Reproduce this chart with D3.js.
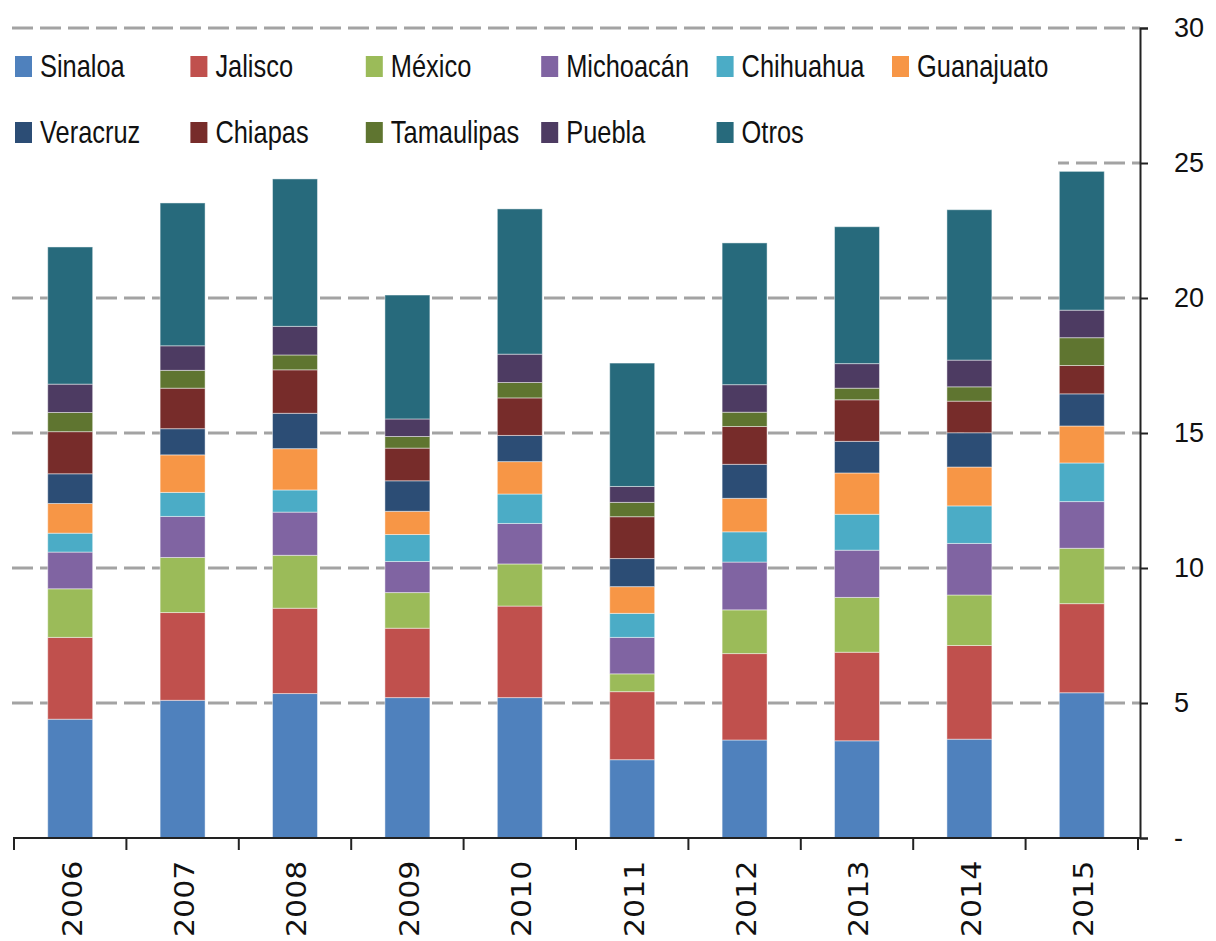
<!DOCTYPE html>
<html>
<head>
<meta charset="utf-8">
<script src="https://cdn.jsdelivr.net/npm/d3@7"></script>
<style>
  body { margin: 0; background: #fff; }
  svg { display: block; }
  .legend text { font-family: "Liberation Sans", Arial, sans-serif; font-size: 31px; fill: #111; }
  .yaxis text { font-family: "Liberation Sans", Arial, sans-serif; font-size: 27px; fill: #111; }
  .xlabels text { font-family: "DejaVu Sans", sans-serif; font-size: 30px; fill: #111; }
</style>
</head>
<body>
<div id="chart"></div>
<script>
var years = ['2006', '2007', '2008', '2009', '2010', '2011', '2012', '2013', '2014', '2015'];
var states = ['Sinaloa', 'Jalisco', 'México', 'Michoacán', 'Chihuahua', 'Guanajuato',
  'Veracruz', 'Chiapas', 'Tamaulipas', 'Puebla', 'Otros'];
var colors = ['#4F81BD', '#C0504D', '#9BBB59', '#8064A2', '#4BACC6', '#F79646',
  '#2C4D75', '#772C2A', '#5F7530', '#4D3B62', '#276A7C'];

// one array per state, values per year (2006..2015)
var sinaloa    = [4.40, 5.10, 5.35, 5.20, 5.20, 2.90, 3.63, 3.60, 3.66, 5.38];
var jalisco    = [3.03, 3.25, 3.16, 2.57, 3.39, 2.52, 3.20, 3.28, 3.47, 3.30];
var mexico     = [1.80, 2.04, 1.96, 1.32, 1.56, 0.66, 1.62, 2.03, 1.87, 2.05];
var michoacan  = [1.36, 1.52, 1.60, 1.15, 1.50, 1.35, 1.77, 1.75, 1.91, 1.73];
var chihuahua  = [0.70, 0.89, 0.82, 1.00, 1.09, 0.89, 1.12, 1.33, 1.39, 1.43];
var guanajuato = [1.10, 1.39, 1.53, 0.86, 1.20, 0.99, 1.24, 1.53, 1.44, 1.37];
var veracruz   = [1.10, 0.97, 1.31, 1.13, 0.97, 1.04, 1.26, 1.17, 1.27, 1.19];
var chiapas    = [1.56, 1.50, 1.61, 1.21, 1.39, 1.55, 1.40, 1.54, 1.17, 1.05];
var tamaulipas = [0.71, 0.66, 0.55, 0.43, 0.57, 0.53, 0.53, 0.43, 0.53, 1.03];
var puebla     = [1.05, 0.91, 1.06, 0.65, 1.05, 0.59, 1.02, 0.91, 0.99, 1.02];
var otros      = [5.08, 5.29, 5.46, 4.59, 5.38, 4.57, 5.25, 5.07, 5.57, 5.14];

var yTicks = [0, 5, 10, 15, 20, 25, 30];

var series = [sinaloa, jalisco, mexico, michoacan, chihuahua, guanajuato,
  veracruz, chiapas, tamaulipas, puebla, otros];

var rows = years.map(function (yr, i) {
  var r = { year: yr };
  states.forEach(function (s, j) { r[s] = series[j][i]; });
  return r;
});

var width = 1216, height = 941;
var svg = d3.select('#chart').append('svg')
  .attr('width', width)
  .attr('height', height);

var x = d3.scaleBand()
  .domain(years)
  .range([14, 1138])
  .paddingInner(0.6)
  .paddingOuter(0.3);

var y = d3.scaleLinear()
  .domain([0, 30])
  .range([838, 28]);

var color = d3.scaleOrdinal().domain(states).range(colors);

// gridlines
svg.append('g')
  .attr('class', 'grid')
  .selectAll('line')
  .data(yTicks.filter(function (d) { return d > 0; }))
  .enter()
  .append('line')
  .attr('x1', 12)
  .attr('x2', 1140)
  .attr('y1', function (d) { return y(d); })
  .attr('y2', function (d) { return y(d); })
  .attr('stroke', '#a3a3a3')
  .attr('stroke-width', 3)
  .attr('stroke-dasharray', '21,7');

// legend background hides the gridline behind it
svg.append('rect')
  .attr('x', 0)
  .attr('y', 38)
  .attr('width', 1058)
  .attr('height', 130)
  .attr('fill', '#fff');

// stacked bars
var stacked = d3.stack().keys(states)(rows);

svg.append('g')
  .attr('class', 'bars')
  .selectAll('g')
  .data(stacked)
  .enter()
  .append('g')
  .attr('fill', function (d) { return color(d.key); })
  .selectAll('rect')
  .data(function (d) { return d; })
  .enter()
  .append('rect')
  .attr('x', function (d) { return x(d.data.year); })
  .attr('width', x.bandwidth())
  .attr('y', function (d) { return y(d[1]); })
  .attr('height', function (d) { return y(d[0]) - y(d[1]); })
  .attr('stroke', 'rgba(255,255,255,0.45)')
  .attr('stroke-width', 1);

// bottom baseline with category boundary ticks
var xAxis = svg.append('g').attr('class', 'xaxis');
xAxis.append('line')
  .attr('x1', 13)
  .attr('x2', 1141)
  .attr('y1', y(0))
  .attr('y2', y(0))
  .attr('stroke', '#222')
  .attr('stroke-width', 2);

var bounds = d3.range(years.length + 1).map(function (i) {
  return x.range()[0] + i * x.step();
});
xAxis.selectAll('.bound')
  .data(bounds)
  .enter()
  .append('line')
  .attr('class', 'bound')
  .attr('x1', function (d) { return d; })
  .attr('x2', function (d) { return d; })
  .attr('y1', y(0))
  .attr('y2', y(0) + 12)
  .attr('stroke', '#222')
  .attr('stroke-width', 2);

svg.append('g')
  .attr('class', 'xlabels')
  .selectAll('text')
  .data(years)
  .enter()
  .append('text')
  .attr('transform', function (d) {
    return 'translate(' + (x(d) + x.bandwidth() / 2 + 2) + ',937) rotate(-90) scale(1,0.87)';
  })
  .attr('dy', '0.36em')
  .attr('text-anchor', 'start')
  .text(function (d) { return d; });

// right axis
var yAxis = svg.append('g')
  .attr('class', 'yaxis')
  .attr('transform', 'translate(1140,0)')
  .call(d3.axisRight(y)
    .tickValues(yTicks)
    .tickSize(8)
    .tickPadding(26)
    .tickFormat(function (d) { return d === 0 ? '-' : d; }));
yAxis.select('.domain').attr('stroke', '#222').attr('stroke-width', 2);
yAxis.selectAll('.tick line').attr('stroke', '#222').attr('stroke-width', 2);

// legend
var legend = svg.append('g').attr('class', 'legend');
var item = legend.selectAll('g')
  .data(states)
  .enter()
  .append('g')
  .attr('transform', function (d, i) {
    var col = i % 6, row = Math.floor(i / 6);
    return 'translate(' + (15 + col * 175.4) + ',' + (77 + row * 66) + ')';
  });
item.append('rect')
  .attr('x', 0)
  .attr('y', -21)
  .attr('width', 17)
  .attr('height', 21)
  .attr('fill', function (d) { return color(d); });
// narrow the legend text horizontally, like the condensed original
item.append('text')
  .attr('transform', 'translate(25,0) scale(0.82,1)')
  .text(function (d) { return d; });
</script>
</body>
</html>
